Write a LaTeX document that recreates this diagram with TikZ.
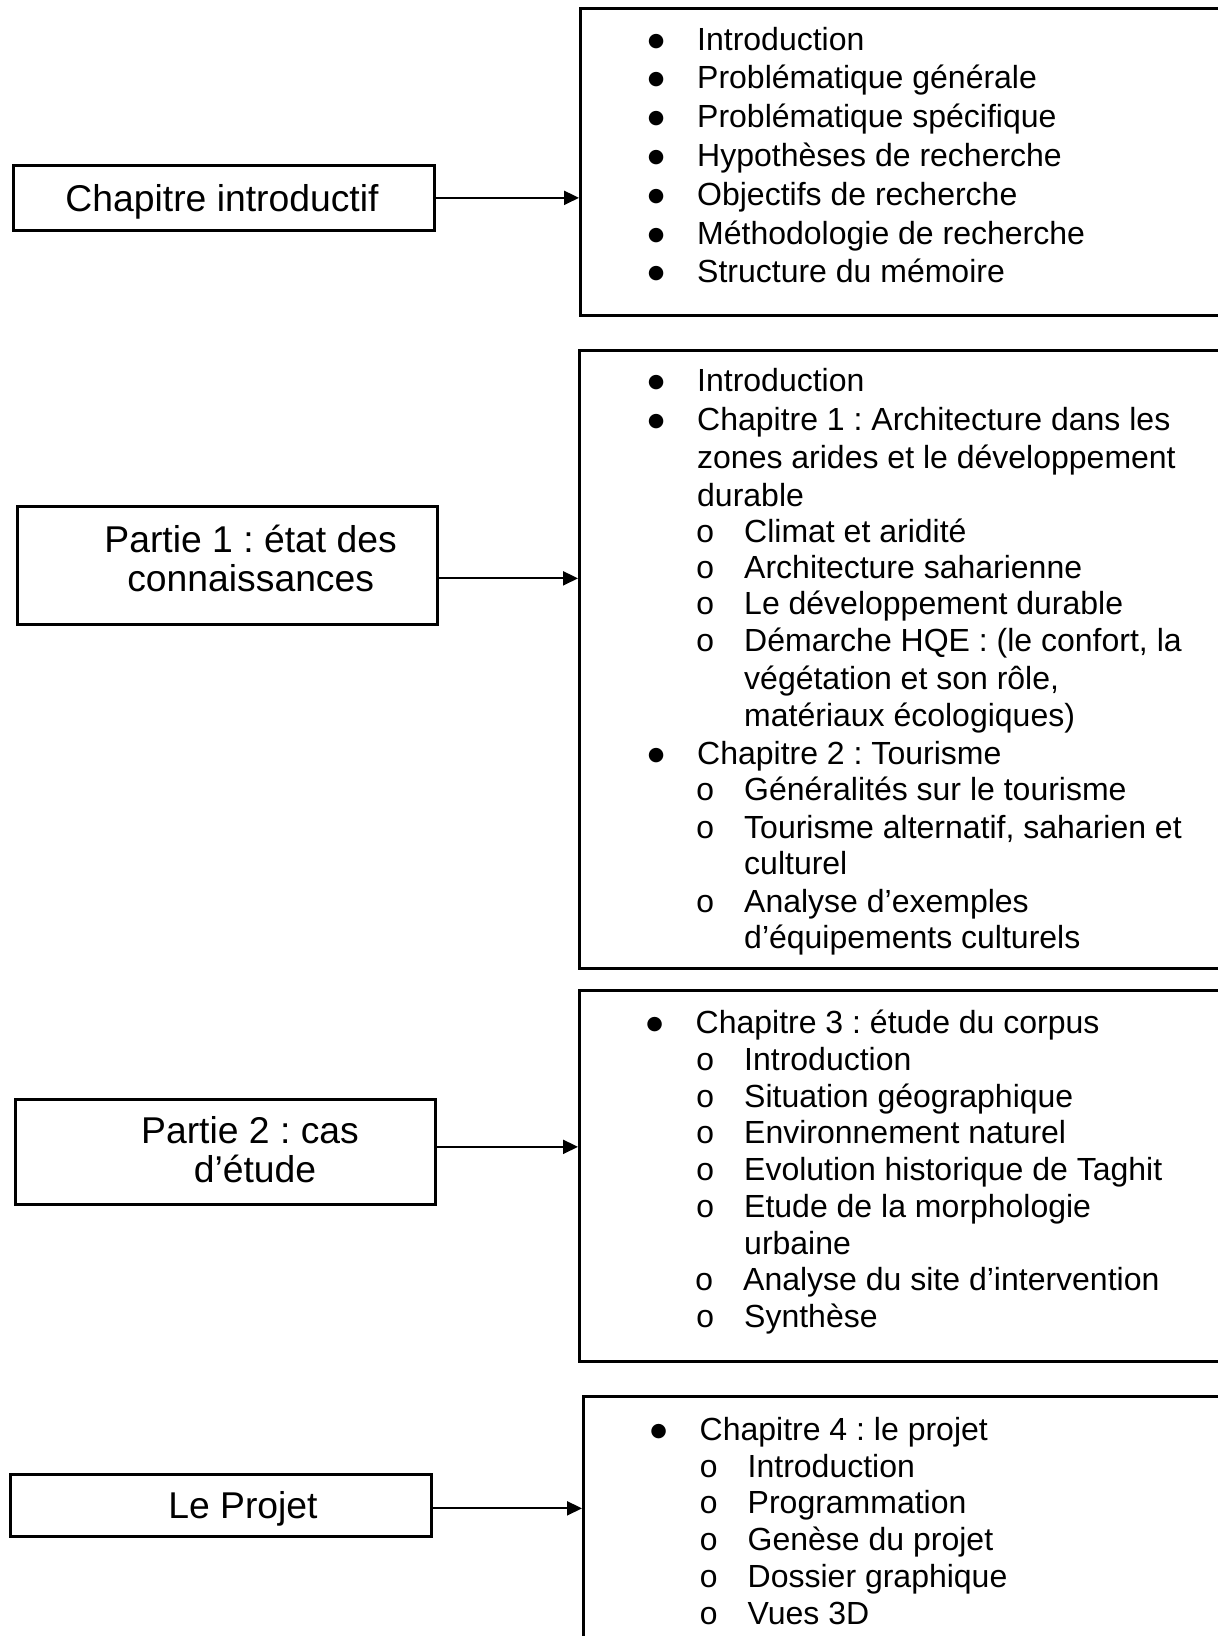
\documentclass[tikz,border=0pt]{standalone}
\usepackage{fontspec}
\setmainfont{Liberation Sans}
\newfontfamily\monofont{Liberation Mono}
\newfontfamily\symfont{DejaVu Sans}
\usetikzlibrary{arrows.meta}
\frenchspacing
\newcommand\bulglyph{{\symfont\fontsize{19}{19}\selectfont\raisebox{4pt}{●}}}
\newcommand\bul{\llap{\makebox[82pt][c]{\bulglyph}}}
\newcommand\cir{\llap{\makebox[78pt][c]{\monofont o}}}
\begin{document}
\begin{tikzpicture}[x=1pt,y=-1pt,
  box/.style={draw, line width=2.7pt, inner sep=0pt, anchor=north west},
  arr/.style={line width=2.2pt, -{Triangle[length=15pt,width=14pt]}},
  it/.style={anchor=base west, inner sep=0pt, font=\fontsize{32}{38}\selectfont},
  lbl/.style={anchor=base, inner sep=0pt, font=\fontsize{37.3}{44}\selectfont}]
\useasboundingbox (0,0) rectangle (1218,1636);
\clip (0,0) rectangle (1218,1636);
% left boxes
\node[box, minimum width=421pt, minimum height=65pt]  (l1) at (12,164) {};
\node[box, minimum width=420pt, minimum height=118pt] (l2) at (16,505) {};
\node[box, minimum width=420pt, minimum height=105pt] (l3) at (14,1098) {};
\node[box, minimum width=421pt, minimum height=62pt]  (l4) at (9,1473) {};
% right boxes (run past the right edge)
\node[box, minimum width=700pt, minimum height=307pt] (r1) at (579,7) {};
\node[box, minimum width=700pt, minimum height=618pt] (r2) at (578,349) {};
\node[box, minimum width=700pt, minimum height=371pt] (r3) at (578,989) {};
\node[box, minimum width=700pt, minimum height=320pt] (r4) at (582,1395) {};
% left labels
\node[lbl] (t1) at (222,211) {Chapitre introductif};
\node[lbl] (t2a) at (250.6,552) {Partie 1 : état des};
\node[lbl] (t2b) at (250.7,591) {connaissances};
\node[lbl] (t3a) at (250,1143) {Partie 2 : cas};
\node[lbl] (t3b) at (255,1182) {d’étude};
\node[lbl] (t4) at (243,1518) {Le Projet};
% arrows
\path (l1.east) coordinate (s1);
\path ([yshift=-13pt]l2.east) coordinate (s2);
\path ([yshift=5pt]l3.east) coordinate (s3);
\path ([yshift=-3pt]l4.east) coordinate (s4);
\draw[arr] (s1) -- (s1 -| r1.west);
\draw[arr] (s2) -- (s2 -| r2.west);
\draw[arr] (s3) -- (s3 -| r3.west);
\draw[arr] (s4) -- (s4 -| r4.west);
% box 1
\node[it] (a1) at (697,50.0)  {\bul Introduction};
\node[it] (a2) at (697,88.8)  {\bul Problématique générale};
\node[it] (a3) at (697,127.6) {\bul Problématique spécifique};
\node[it] (a4) at (697,166.4) {\bul Hypothèses de recherche};
\node[it] (a5) at (697,205.2) {\bul Objectifs de recherche};
\node[it] (a6) at (697,244.0) {\bul Méthodologie de recherche};
\node[it] (a7) at (697,282.8) {\bul Structure du mémoire};
% box 2
\node[it] (b1)  at (697,391.5) {\bul Introduction};
\node[it] (b2)  at (697,430.0) {\bul Chapitre 1 : Architecture dans les};
\node[it] (b3)  at (697,468.5) {zones arides et le développement};
\node[it] (b4)  at (697,506.0) {durable};
\node[it] (b5)  at (744,542.0) {\cir Climat et aridité};
\node[it] (b6)  at (744,578.3) {\cir Architecture saharienne};
\node[it] (b7)  at (744,614.8) {\cir Le développement durable};
\node[it] (b8)  at (744,651.3) {\cir Démarche HQE : (le confort, la};
\node[it] (b9)  at (744,689.0) {végétation et son rôle,};
\node[it] (b10) at (744,726.5) {matériaux écologiques)};
\node[it] (b11) at (697,764.0) {\bul Chapitre 2 : Tourisme};
\node[it] (b12) at (744,800.6) {\cir Généralités sur le tourisme};
\node[it] (b13) at (744,838.0) {\cir Tourisme alternatif, saharien et};
\node[it] (b14) at (744,874.7) {culturel};
\node[it] (b15) at (744,912.0) {\cir Analyse d’exemples};
\node[it] (b16) at (744,948.8) {d’équipements culturels};
% box 3
\node[it] (c1) at (695.5,1033.5) {\bul Chapitre 3 : étude du corpus};
\node[it] (c2) at (744,1070.25) {\cir Introduction};
\node[it] (c3) at (744,1107.0)  {\cir Situation géographique};
\node[it] (c4) at (744,1143.75) {\cir Environnement naturel};
\node[it] (c5) at (744,1180.5)  {\cir Evolution historique de Taghit};
\node[it] (c6) at (744,1217.25) {\cir Etude de la morphologie};
\node[it] (c7) at (744,1254.0)  {urbaine};
\node[it] (c8) at (743,1290.75) {\cir Analyse du site d’intervention};
\node[it] (c9) at (744,1327.5)  {\cir Synthèse};
% box 4
\node[it] (d1) at (699.5,1440.5) {\bul Chapitre 4 : le projet};
\node[it] (d2) at (747.5,1477.2) {\cir Introduction};
\node[it] (d3) at (747.5,1513.9) {\cir Programmation};
\node[it] (d4) at (747.5,1550.6) {\cir Genèse du projet};
\node[it] (d5) at (747.5,1587.3) {\cir Dossier graphique};
\node[it] (d6) at (747.5,1624.0) {\cir Vues 3D};
\end{tikzpicture}
\end{document}
